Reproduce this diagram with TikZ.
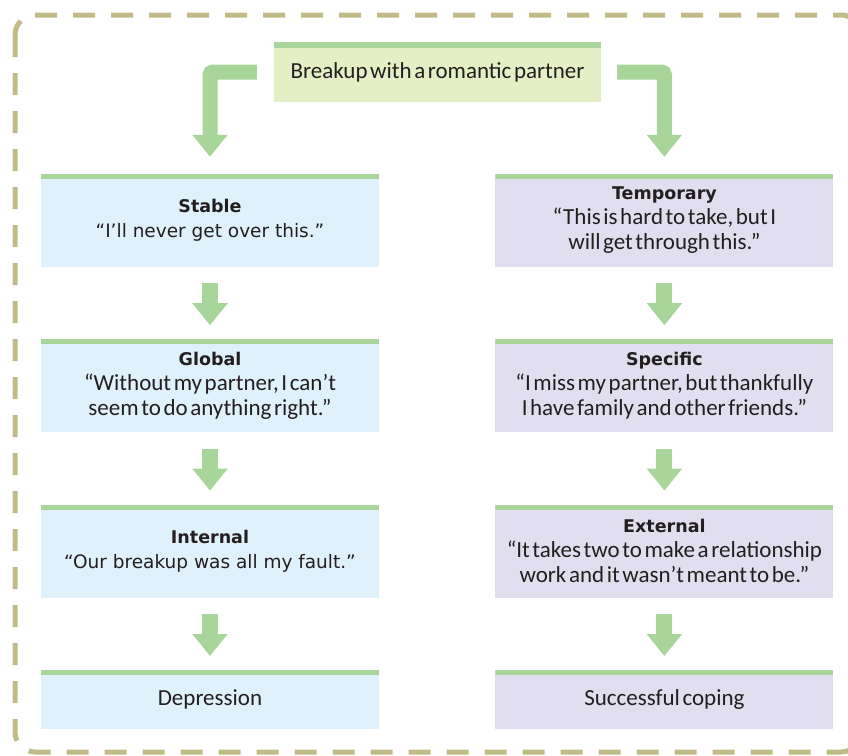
\documentclass[tikz,border=0pt]{standalone}
\usepackage{fontspec}
\setmainfont[WordSpace=0.5]{Carlito}
\newfontfamily\vfont{DejaVu Sans}
\usetikzlibrary{arrows.meta,positioning}
\definecolor{BarGreen}{HTML}{A8D59A}
\definecolor{SoftLime}{HTML}{E5EFC6}
\definecolor{SoftSky}{HTML}{DFF1FB}
\definecolor{SoftLilac}{HTML}{E0DEEF}
\definecolor{FrameOlive}{HTML}{C0BB87}
\definecolor{InkGray}{HTML}{231F20}
\newcommand{\boxhead}[1]{{\vfont\bfseries\fontsize{17.5}{24}\selectfont #1}}
\newcommand{\vquote}[1]{{\vfont\fontsize{18.5}{25}\selectfont #1}}

\begin{document}
\begin{tikzpicture}[x=1pt,y=1pt,node distance=72pt,every node/.style={text=InkGray, align=center, font=\fontsize{23}{25}\selectfont}, card/.style={minimum width=338pt, minimum height=93pt, inner sep=0pt, path picture={\fill[BarGreen] (path picture bounding box.north west) rectangle ([yshift=-5pt]path picture bounding box.north east);}}, fatarrow/.style={draw=BarGreen, line width=16pt, -{Triangle[width=34pt,length=22pt]}}]
        \useasboundingbox (0,0) rectangle (848,-755);
        % dashed frame, right side runs off the page
        \draw[FrameOlive, line width=5pt, dash pattern=on 22pt off 16pt, rounded corners=20pt] (15,-15) rectangle (861,-752);
        \node[fill=SoftLime, minimum width=327pt, minimum height=60pt, inner sep=0pt, font=\fontsize{23}{26}\selectfont, path picture={\fill[BarGreen] (path picture bounding box.north west) rectangle ([yshift=-6pt]path picture bounding box.north east);}] (breakup) at (437.5,-72) {Breakup with a romantic partner};
        % left column
        \node[card, fill=SoftSky] (stable) at (210,-220.5) {\boxhead{Stable}\\\vquote{“I’ll never get over this.”}};
        \node[card, fill=SoftSky, below=of stable] (global) {\boxhead{Global}\\“Without my partner, I can’t\\seem to do anything right.”};
        \node[card, fill=SoftSky, below=of global] (internal) {\boxhead{Internal}\\\vquote{“Our breakup was all my fault.”}};
        \node[card, fill=SoftSky, minimum height=59pt, below=of internal] (depression) {Depression};
        % right column
        \node[card, fill=SoftLilac, right=116pt of stable] (temporary) {\boxhead{Temporary}\\“This is hard to take, but I\\will get through this.”};
        \node[card, fill=SoftLilac, below=of temporary] (specific) {\boxhead{Specific}\\“I miss my partner, but thankfully\\I have family and other friends.”};
        \node[card, fill=SoftLilac, below=of specific] (external) {\boxhead{External}\\“It takes two to make a relationship\\work and it wasn’t meant to be.”};
        \node[card, fill=SoftLilac, minimum height=59pt, below=of external] (coping) {Successful coping};
        \draw[fatarrow, line width=15pt, rounded corners=3pt] ([xshift=-17pt]breakup.west) -| ([yshift=17pt]stable.north);
        \draw[fatarrow, line width=15pt, rounded corners=3pt] ([xshift=16pt]breakup.east) -| ([yshift=17pt]temporary.north);
        \foreach \a/\b in {stable/global, global/internal, internal/depression, temporary/specific, specific/external, external/coping}
            \draw[fatarrow] ([yshift=-16pt]\a.south) -- ([yshift=14pt]\b.north);
    \end{tikzpicture}
\end{document}
